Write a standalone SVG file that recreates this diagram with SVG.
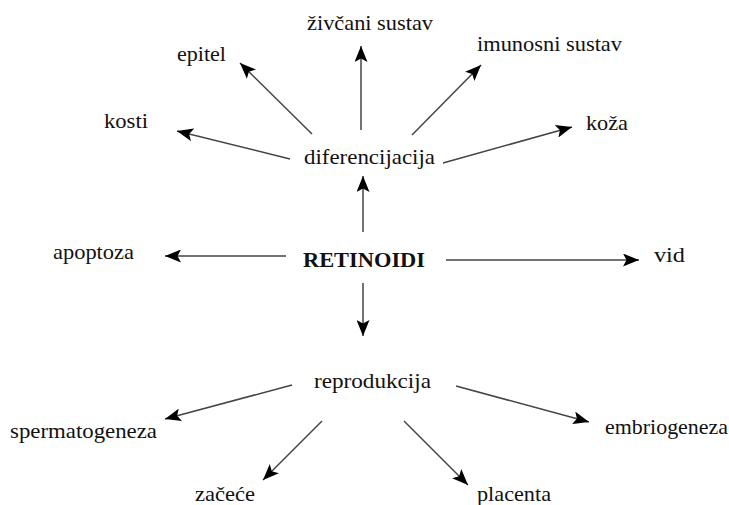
<svg xmlns="http://www.w3.org/2000/svg" width="729" height="505" viewBox="0 0 729 505">
<style>
text{font-family:"Liberation Serif","Times New Roman",serif;font-size:22px;fill:#111}
.b{font-weight:bold}
.c line{stroke:#444;stroke-width:1.5;marker-end:url(#ah)}
</style>
<defs>
<marker id="ah" markerUnits="userSpaceOnUse" markerWidth="17" markerHeight="13" refX="16" refY="6.5" orient="auto" viewBox="0 0 17 13">
<path d="M0,0 L16,6.5 L0,13 L3.5,6.5 z" fill="#000"/>
</marker>
</defs>
<rect width="729" height="505" fill="#fff"/>
<g class="c" id="connectors">
<line x1="361" y1="130" x2="361" y2="46"/>
<line x1="312" y1="134" x2="240" y2="63"/>
<line x1="290" y1="159" x2="177" y2="131"/>
<line x1="412" y1="135" x2="481" y2="65"/>
<line x1="443" y1="163" x2="572" y2="127"/>
<line x1="363" y1="232" x2="363" y2="176"/>
<line x1="363" y1="283" x2="363" y2="336"/>
<line x1="286" y1="256" x2="165" y2="256"/>
<line x1="446" y1="260" x2="639" y2="260"/>
<line x1="292" y1="385" x2="165" y2="419"/>
<line x1="322" y1="421" x2="263" y2="480"/>
<line x1="404" y1="421" x2="468" y2="485"/>
<line x1="456" y1="386" x2="589" y2="422"/>
</g>
<g id="retinoidi"><text class="b" x="303" y="267" textLength="122" lengthAdjust="spacingAndGlyphs">RETINOIDI</text></g>
<g id="diferencijacija"><text x="304" y="164" textLength="131" lengthAdjust="spacingAndGlyphs">diferencijacija</text></g>
<g id="zivcani"><text x="307" y="30" textLength="126" lengthAdjust="spacingAndGlyphs">živčani sustav</text></g>
<g id="epitel"><text x="177" y="61" textLength="49" lengthAdjust="spacingAndGlyphs">epitel</text></g>
<g id="kosti"><text x="104" y="128" textLength="44" lengthAdjust="spacingAndGlyphs">kosti</text></g>
<g id="imunosni"><text x="477" y="51" textLength="145" lengthAdjust="spacingAndGlyphs">imunosni sustav</text></g>
<g id="koza"><text x="586" y="130" textLength="42" lengthAdjust="spacingAndGlyphs">koža</text></g>
<g id="apoptoza"><text x="53" y="259" textLength="81" lengthAdjust="spacingAndGlyphs">apoptoza</text></g>
<g id="vid"><text x="654" y="262" textLength="31" lengthAdjust="spacingAndGlyphs">vid</text></g>
<g id="reprodukcija"><text x="314" y="388" textLength="117" lengthAdjust="spacingAndGlyphs">reprodukcija</text></g>
<g id="spermatogeneza"><text x="10" y="438" textLength="147" lengthAdjust="spacingAndGlyphs">spermatogeneza</text></g>
<g id="embriogeneza"><text x="605" y="434" textLength="123" lengthAdjust="spacingAndGlyphs">embriogeneza</text></g>
<g id="zacece"><text x="195" y="501" textLength="60" lengthAdjust="spacingAndGlyphs">začeće</text></g>
<g id="placenta"><text x="477" y="501" textLength="74" lengthAdjust="spacingAndGlyphs">placenta</text></g>
</svg>
